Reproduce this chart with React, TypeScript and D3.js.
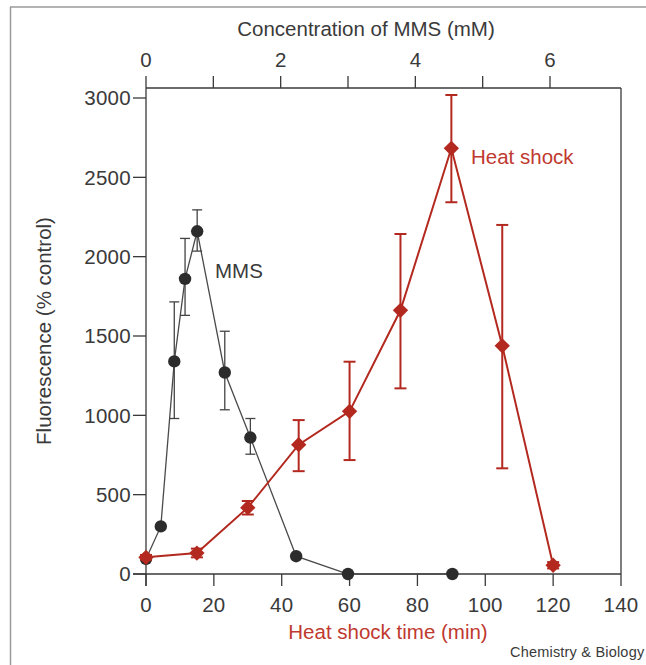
import React from "react";
import * as d3 from "d3";

// MMS series (top axis, concentration in mM)
const mmsConc = [0, 0.22, 0.42, 0.58, 0.76, 1.17, 1.55, 2.23, 3.0, 4.55];
const mmsValue = [95, 300, 1340, 1860, 2160, 1270, 860, 112, 0, 0];
const mmsLow = [95, 300, 980, 1630, 2035, 1035, 755, 112, 0, 0];
const mmsHigh = [95, 300, 1715, 2115, 2295, 1530, 980, 112, 0, 0];

// Heat shock series (bottom axis, minutes)
const heatTime = [0, 15, 30, 45, 60, 75, 90, 105, 120];
const heatValue = [105, 132, 418, 815, 1025, 1662, 2683, 1438, 55];
const heatLow = [90, 105, 375, 648, 718, 1170, 2343, 666, 35];
const heatHigh = [120, 160, 460, 970, 1338, 2143, 3019, 2200, 75];

const yTicks = [0, 500, 1000, 1500, 2000, 2500, 3000];
const timeTicks = [0, 20, 40, 60, 80, 100, 120, 140];
const concTicks = [0, 1, 2, 3, 4, 5, 6];
const concLabels = [0, 2, 4, 6];

const RED = "#b3291f";
const RED_TEXT = "#c0392f";
const DARK = "#2c2c2c";
const AXIS = "#3a3a3a";
const FONT = "'Liberation Sans', Arial, Helvetica, sans-serif";
const FS = 20.5;

export default function App() {
  const W = 646;
  const H = 665;
  const x = d3.scaleLinear().domain([0, 140]).range([146, 621]);
  const xc = d3.scaleLinear().domain([0, 6]).range([146, 550]);
  const y = d3.scaleLinear().domain([0, 3000]).range([574, 98]);
  const top = 88;

  const mmsPts = mmsConc.map((c, i) => ({ c, v: mmsValue[i], lo: mmsLow[i], hi: mmsHigh[i] }));
  const heatPts = heatTime.map((t, i) => ({ t, v: heatValue[i], lo: heatLow[i], hi: heatHigh[i] }));

  const mmsLine = d3
    .line<{ c: number; v: number }>()
    .x((d) => xc(d.c))
    .y((d) => y(d.v));
  const heatLine = d3
    .line<{ t: number; v: number }>()
    .x((d) => x(d.t))
    .y((d) => y(d.v));

  const diamond = d3.symbol().type(d3.symbolDiamond2).size(150)();

  return (
    <div style={{ position: "fixed", left: 0, top: 0, width: W, height: H, background: "#fff" }}>
      <svg width={W} height={H} style={{ display: "block" }} fontFamily={FONT}>
        <rect x={0} y={0} width={W} height={H} fill="#fff" />
        {/* outer frame */}
        <line x1={10} y1={7} x2={W} y2={7} stroke="#9a9a9a" strokeWidth={1.5} />
        <line x1={10.5} y1={7} x2={10.5} y2={H} stroke="#9a9a9a" strokeWidth={1.5} />

        {/* plot box: top and right */}
        <line x1={x(0)} y1={top} x2={x(140)} y2={top} stroke={AXIS} strokeWidth={1.3} />
        <line x1={x(140)} y1={top} x2={x(140)} y2={y(0)} stroke={AXIS} strokeWidth={1.3} />
        {/* y axis */}
        <line x1={x(0)} y1={top} x2={x(0)} y2={y(0) + 12} stroke={AXIS} strokeWidth={1.3} />
        {/* x axis */}
        <line x1={x(0) - 13} y1={y(0)} x2={x(140)} y2={y(0)} stroke={AXIS} strokeWidth={1.3} />

        {yTicks.map((t) => (
          <g key={"y" + t}>
            <line x1={x(0) - 13} x2={x(0)} y1={y(t)} y2={y(t)} stroke={AXIS} strokeWidth={1.3} />
            <text x={x(0) - 15} y={y(t)} dy="0.36em" textAnchor="end" fontSize={FS} fill={AXIS} letterSpacing={0.3}>
              {t}
            </text>
          </g>
        ))}
        {timeTicks.map((t) => (
          <g key={"x" + t}>
            <line x1={x(t)} x2={x(t)} y1={y(0)} y2={y(0) + 12} stroke={AXIS} strokeWidth={1.3} />
            <text x={x(t)} y={612} textAnchor="middle" fontSize={FS} fill={AXIS} letterSpacing={0.3}>
              {t}
            </text>
          </g>
        ))}
        {concTicks.map((t) => (
          <line key={"c" + t} x1={xc(t)} x2={xc(t)} y1={top - 12} y2={top} stroke={AXIS} strokeWidth={1.3} />
        ))}
        {concLabels.map((t) => (
          <text key={"cl" + t} x={xc(t)} y={67} textAnchor="middle" fontSize={FS} fill={AXIS}>
            {t}
          </text>
        ))}

        {/* axis titles */}
        <text x={366} y={36} textAnchor="middle" fontSize={FS} fill={AXIS}>
          Concentration of MMS (mM)
        </text>
        <text transform={`translate(51,331) rotate(-90)`} textAnchor="middle" fontSize={FS} fill={AXIS}>
          Fluorescence (% control)
        </text>
        <text x={388} y={639} textAnchor="middle" fontSize={FS} fill={RED_TEXT}>
          Heat shock time (min)
        </text>
        <text x={510} y={657} fontSize={14.5} fill={AXIS} letterSpacing={0.2}>
          Chemistry &amp; Biology
        </text>

        {/* MMS series */}
        <path d={mmsLine(mmsPts) || ""} fill="none" stroke="#4a4a4a" strokeWidth={1.3} />
        {mmsPts.map((d, i) =>
          d.hi - d.lo > 20 ? (
            <g key={"me" + i} stroke="#444" strokeWidth={1.3}>
              <line x1={xc(d.c)} x2={xc(d.c)} y1={y(d.hi)} y2={y(d.lo)} />
              <line x1={xc(d.c) - 5} x2={xc(d.c) + 5} y1={y(d.hi)} y2={y(d.hi)} />
              <line x1={xc(d.c) - 5} x2={xc(d.c) + 5} y1={y(d.lo)} y2={y(d.lo)} />
            </g>
          ) : null
        )}
        {mmsPts.map((d, i) => (
          <circle key={"mc" + i} cx={xc(d.c)} cy={y(d.v)} r={6.2} fill={DARK} />
        ))}
        <text x={215} y={278} fontSize={FS} fill={AXIS}>
          MMS
        </text>

        {/* Heat shock series */}
        <path d={heatLine(heatPts) || ""} fill="none" stroke={RED} strokeWidth={2} />
        {heatPts.map((d, i) => (
          <g key={"he" + i} stroke={RED} strokeWidth={2}>
            <line x1={x(d.t)} x2={x(d.t)} y1={y(d.hi)} y2={y(d.lo)} />
            <line x1={x(d.t) - 6} x2={x(d.t) + 6} y1={y(d.hi)} y2={y(d.hi)} />
            <line x1={x(d.t) - 6} x2={x(d.t) + 6} y1={y(d.lo)} y2={y(d.lo)} />
          </g>
        ))}
        {heatPts.map((d, i) => (
          <path key={"hd" + i} d={diamond || ""} transform={`translate(${x(d.t)},${y(d.v)})`} fill={RED} />
        ))}
        <text x={471} y={164} fontSize={FS} fill={RED_TEXT}>
          Heat shock
        </text>
      </svg>
    </div>
  );
}
